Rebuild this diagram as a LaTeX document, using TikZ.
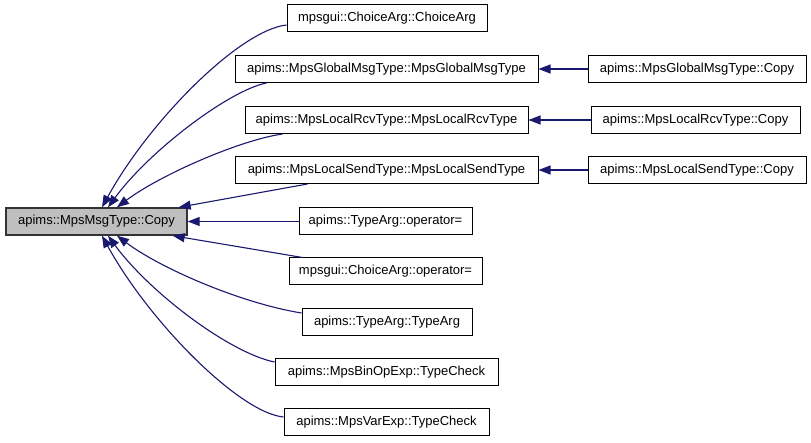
\documentclass[tikz,border=0pt]{standalone}
\usepackage{fontspec}
\setmainfont{Liberation Sans}
\usetikzlibrary{arrows.meta}
\definecolor{edgeblue}{HTML}{191970}
\definecolor{maingray}{HTML}{BFBFBF}
\tikzset{
  fnbox/.style={draw=black, line width=1pt, fill=white, minimum height=27pt, inner sep=0pt,
    font=\fontsize{13}{15}\selectfont},
  mainbox/.style={fnbox, fill=maingray, draw=black!80, line width=1.4pt},
  edge/.style={draw=edgeblue, line width=1.1pt, -{Triangle[length=12pt,width=9pt]}},
}
\begin{document}
\begin{tikzpicture}[x=1pt,y=-1pt]
\useasboundingbox (0,0) rectangle (811,443);
\fill[white] (0,0) rectangle (811,443);

\node[mainbox, minimum width=181pt] (main) at (96.5,221.5) {apims::MpsMsgType::Copy};

\node[fnbox, minimum width=200pt] (n1) at (387,18.5) {mpsgui::ChoiceArg::ChoiceArg};
\node[fnbox, minimum width=303pt] (n2) at (386.5,69) {apims::MpsGlobalMsgType::MpsGlobalMsgType};
\node[fnbox, minimum width=283pt] (n3) at (386.5,120) {apims::MpsLocalRcvType::MpsLocalRcvType};
\node[fnbox, minimum width=303pt] (n4) at (386.5,170) {apims::MpsLocalSendType::MpsLocalSendType};
\node[fnbox, minimum width=173pt] (n5) at (385.5,221.5) {apims::TypeArg::operator=};
\node[fnbox, minimum width=193pt] (n6) at (385.5,271.5) {mpsgui::ChoiceArg::operator=};
\node[fnbox, minimum width=170pt] (n7) at (387,322) {apims::TypeArg::TypeArg};
\node[fnbox, minimum width=223pt] (n8) at (386.5,372) {apims::MpsBinOpExp::TypeCheck};
\node[fnbox, minimum width=205pt] (n9) at (386.5,422) {apims::MpsVarExp::TypeCheck};

\node[fnbox, minimum width=218pt] (r1) at (697,69) {apims::MpsGlobalMsgType::Copy};
\node[fnbox, minimum width=209pt] (r2) at (695.5,120) {apims::MpsLocalRcvType::Copy};
\node[fnbox, minimum width=218pt] (r3) at (697,170) {apims::MpsLocalSendType::Copy};

% right column to middle column
\draw[edge] (r1.west) -- (n2.east);
\draw[edge] (r2.west) -- (n3.east);
\draw[edge] (r3.west) -- (n4.east);

% middle column to main
\draw[edge] ([yshift=-6.5pt]n1.west) .. controls (240,30) and (150,120) .. ([xshift=5.5pt]main.north);
\draw[edge] ([xshift=32pt]n2.south west) .. controls (230,90) and (150,150) .. ([xshift=11.5pt]main.north);
\draw[edge] ([xshift=38pt]n3.south west) .. controls (240,140) and (160,175) .. ([xshift=20.5pt]main.north);
\draw[edge] ([xshift=73pt]n4.south west) -- ([xshift=-9pt]main.north east);
\draw[edge] (n5.west) -- (main.east);
\draw[edge] ([xshift=14pt]n6.north west) -- ([xshift=-15pt]main.south east);
\draw[edge] ([yshift=9pt]n7.west) .. controls (240,303) and (160,268) .. ([xshift=20.5pt]main.south);
\draw[edge] ([yshift=10pt]n8.west) .. controls (230,353) and (150,293) .. ([xshift=11.5pt]main.south);
\draw[edge] ([yshift=5pt]n9.west) .. controls (240,413) and (150,323) .. ([xshift=5.5pt]main.south);
\end{tikzpicture}
\end{document}
